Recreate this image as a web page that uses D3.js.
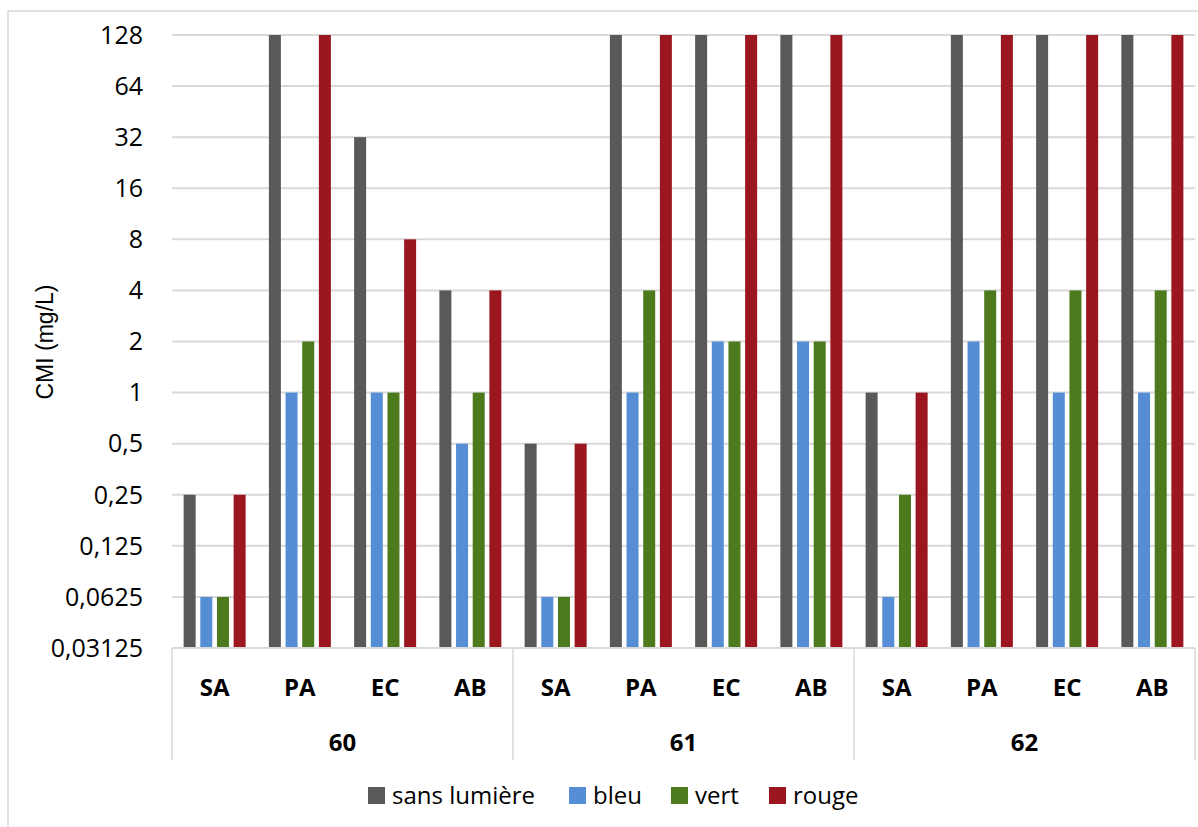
<!DOCTYPE html>
<html>
<head>
<meta charset="utf-8">
<script src="https://cdn.jsdelivr.net/npm/d3@7"></script>
<style>
  body { margin: 0; background: #fff; }
  svg text { fill: #000; }
</style>
</head>
<body>
<div id="chart"></div>
<script>
const groups = ['60', '61', '62'];
const bacteria = ['SA', 'PA', 'EC', 'AB'];
const seriesNames = ['sans lumière', 'bleu', 'vert', 'rouge'];
const seriesColors = ['#595959', '#558ed5', '#4e7a1e', '#9b161f'];
const yTicks = [0.03125, 0.0625, 0.125, 0.25, 0.5, 1, 2, 4, 8, 16, 32, 64, 128];
const yTickLabels = ['0,03125', '0,0625', '0,125', '0,25', '0,5', '1', '2', '4', '8', '16', '32', '64', '128'];

// one row per series, 12 values: 60 SA..AB, 61 SA..AB, 62 SA..AB
const sansLumiere = [0.25, 128, 32, 4, 0.5, 128, 128, 128, 1, 128, 128, 128];
const bleu = [0.0625, 1, 1, 0.5, 0.0625, 1, 2, 2, 0.0625, 2, 1, 1];
const vert = [0.0625, 2, 1, 1, 0.0625, 4, 2, 2, 0.25, 4, 4, 4];
const rouge = [0.25, 128, 8, 4, 0.5, 128, 128, 128, 1, 128, 128, 128];

const seriesValues = [sansLumiere, bleu, vert, rouge];

const W = 1198, H = 827;
const plot = { left: 172, right: 1195, top: 35, bottom: 648 };

const svg = d3.select('#chart').append('svg')
    .attr('width', W)
    .attr('height', H);

svg.append('rect')
    .attr('x', 0).attr('y', 0).attr('width', W).attr('height', H)
    .attr('fill', '#fff');

// chart frame
svg.append('rect')
    .attr('x', 8).attr('y', 11).attr('width', W + 10).attr('height', H + 10)
    .attr('fill', 'none')
    .attr('stroke', '#d9d9d9')
    .attr('stroke-width', 1.5);

const cats = [];
groups.forEach(g => bacteria.forEach(b => cats.push(g + '|' + b)));

const x0 = d3.scaleBand()
    .domain(cats)
    .range([plot.left, plot.right])
    .paddingInner(0.2727)
    .paddingOuter(0.1364);

const x1 = d3.scaleBand()
    .domain(seriesNames)
    .range([0, x0.bandwidth()])
    .paddingInner(0.28);

const y = d3.scaleLog()
    .base(2)
    .domain([0.03125, 128])
    .range([plot.bottom, plot.top]);

// gridlines
svg.append('g')
    .selectAll('line')
    .data(yTicks)
    .join('line')
    .attr('x1', plot.left)
    .attr('x2', plot.right)
    .attr('y1', d => y(d))
    .attr('y2', d => y(d))
    .attr('stroke', '#d9d9d9')
    .attr('stroke-width', 2);

// y tick labels
svg.append('g')
    .selectAll('text')
    .data(yTicks)
    .join('text')
    .attr('x', 143)
    .attr('y', d => y(d))
    .attr('dy', '0.35em')
    .attr('text-anchor', 'end')
    .style('font-family', '"Open Sans", sans-serif')
    .style('font-size', '25px')
    .text((d, i) => yTickLabels[i]);

// y axis title
svg.append('text')
    .attr('transform', 'translate(53,342) rotate(-90)')
    .attr('text-anchor', 'middle')
    .style('font-family', '"Liberation Sans", Arial, sans-serif')
    .style('font-size', '23px')
    .text('CMI (mg/L)');

// bars
const barData = [];
seriesValues.forEach((vals, s) => {
    vals.forEach((v, i) => barData.push({ cat: cats[i], series: seriesNames[s], color: seriesColors[s], value: v }));
});

svg.append('g')
    .selectAll('rect')
    .data(barData)
    .join('rect')
    .attr('x', d => x0(d.cat) + x1(d.series))
    .attr('width', x1.bandwidth())
    .attr('y', d => y(d.value))
    .attr('height', d => plot.bottom - y(d.value))
    .attr('fill', d => d.color);

// bottom axis line + multi-level category axis
svg.append('line')
    .attr('x1', plot.left).attr('x2', plot.right)
    .attr('y1', plot.bottom).attr('y2', plot.bottom)
    .attr('stroke', '#d9d9d9')
    .attr('stroke-width', 2);

const groupStep = x0.step() * bacteria.length;
const groupEdges = d3.range(groups.length + 1).map(i => plot.left + i * groupStep);

svg.append('g')
    .selectAll('line')
    .data(groupEdges)
    .join('line')
    .attr('x1', d => d).attr('x2', d => d)
    .attr('y1', plot.bottom).attr('y2', 760)
    .attr('stroke', '#d9d9d9')
    .attr('stroke-width', 1.5);

svg.append('g')
    .selectAll('text')
    .data(cats)
    .join('text')
    .attr('x', d => x0(d) + x0.bandwidth() / 2)
    .attr('y', 696)
    .attr('text-anchor', 'middle')
    .style('font-family', '"Open Sans", sans-serif')
    .style('font-size', '24px')
    .style('font-weight', 'bold')
    .text(d => d.split('|')[1]);

svg.append('g')
    .selectAll('text')
    .data(groups)
    .join('text')
    .attr('x', (d, i) => plot.left + (i + 0.5) * groupStep)
    .attr('y', 751)
    .attr('text-anchor', 'middle')
    .style('font-family', '"Open Sans", sans-serif')
    .style('font-size', '24px')
    .style('font-weight', 'bold')
    .text(d => d);

// legend
const legendX = [368, 569, 671, 769];
const legend = svg.append('g')
    .selectAll('g')
    .data(seriesNames)
    .join('g')
    .attr('transform', (d, i) => 'translate(' + legendX[i] + ',787)');

legend.append('rect')
    .attr('width', 17)
    .attr('height', 17)
    .attr('fill', (d, i) => seriesColors[i]);

legend.append('text')
    .attr('x', 24)
    .attr('y', 8.5)
    .attr('dy', '0.35em')
    .style('font-family', '"Open Sans", sans-serif')
    .style('font-size', '24px')
    .text(d => d);
</script>
</body>
</html>
